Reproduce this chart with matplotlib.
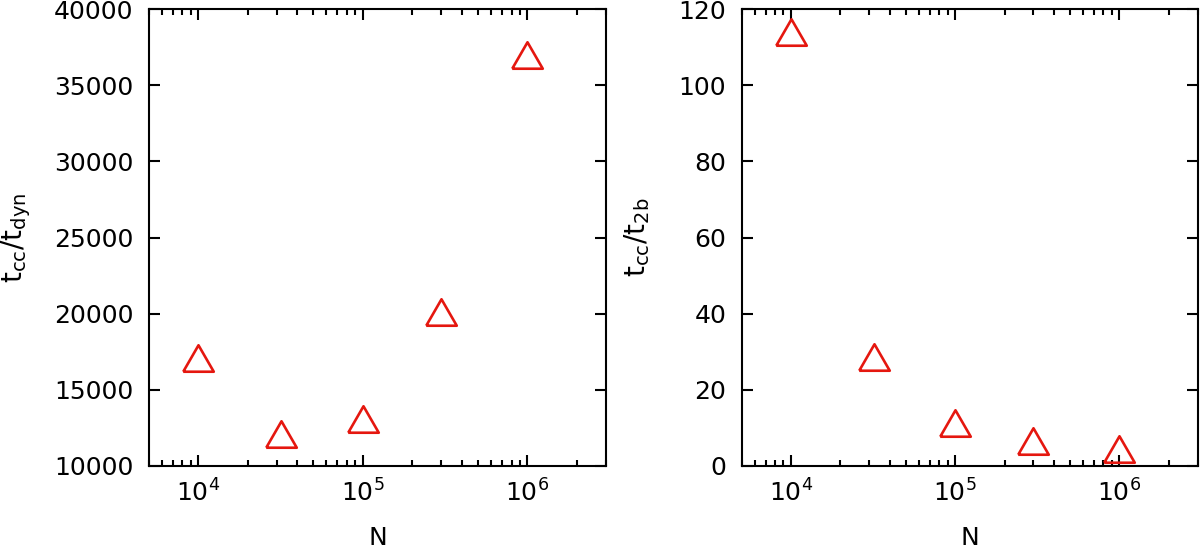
import matplotlib
matplotlib.use("Agg")
import matplotlib.pyplot as plt
from matplotlib.ticker import LogLocator, NullFormatter

# data
n_values = [1e4, 3.16e4, 1e5, 3e5, 1e6]
tcc_tdyn = [17100, 12100, 13100, 20100, 37000]
n_values_2b = [1e4, 3.2e4, 1e5, 3e5, 1e6]
tcc_t2b = [114, 28.5, 11.3, 6.5, 4.3]

plt.rcParams['font.family'] = ['DejaVu Sans']
plt.rcParams['font.size'] = 18

red = '#e5170f'
# equilateral triangle marker, centred on its bounding box
tri = [(-1, -0.866), (1, -0.866), (0, 0.866), (-1, -0.866)]

fig = plt.figure(figsize=(12, 5.48), dpi=100)
ax1 = fig.add_axes([0.124, 0.150, 0.381, 0.833])
ax2 = fig.add_axes([0.618, 0.150, 0.380, 0.833])


def style_axis(ax):
    ax.set_xscale('log')
    ax.set_xlim(5000, 3e6)
    ax.xaxis.set_major_locator(LogLocator(base=10, numticks=10))
    ax.xaxis.set_minor_locator(LogLocator(base=10, subs=range(2, 10), numticks=10))
    ax.xaxis.set_minor_formatter(NullFormatter())
    ax.tick_params(which='both', direction='in', top=True, right=True, width=1.5)
    ax.tick_params(which='major', length=8, pad=10)
    ax.tick_params(which='minor', length=4)
    ax.tick_params(axis='y', which='major', pad=11)
    for s in ax.spines.values():
        s.set_linewidth(1.5)
    ax.set_xlabel('N', labelpad=14)


ax1.plot(n_values, tcc_tdyn, linestyle='none', marker=tri, ms=22,
         markerfacecolor='none', markeredgecolor=red, markeredgewidth=1.9)
style_axis(ax1)
ax1.set_ylim(10000, 40000)
ax1.set_yticks([10000, 15000, 20000, 25000, 30000, 35000, 40000])
ax1.set_ylabel(r'$\mathregular{t_{cc}/t_{dyn}}$', fontsize=20, labelpad=15)

ax2.plot(n_values_2b, tcc_t2b, linestyle='none', marker=tri, ms=22,
         markerfacecolor='none', markeredgecolor=red, markeredgewidth=1.9)
style_axis(ax2)
ax2.set_ylim(0, 120)
ax2.set_yticks([0, 20, 40, 60, 80, 100, 120])
ax2.set_ylabel(r'$\mathregular{t_{cc}/t_{2b}}$', fontsize=20, labelpad=19)

fig.savefig('out.png', dpi=100)
